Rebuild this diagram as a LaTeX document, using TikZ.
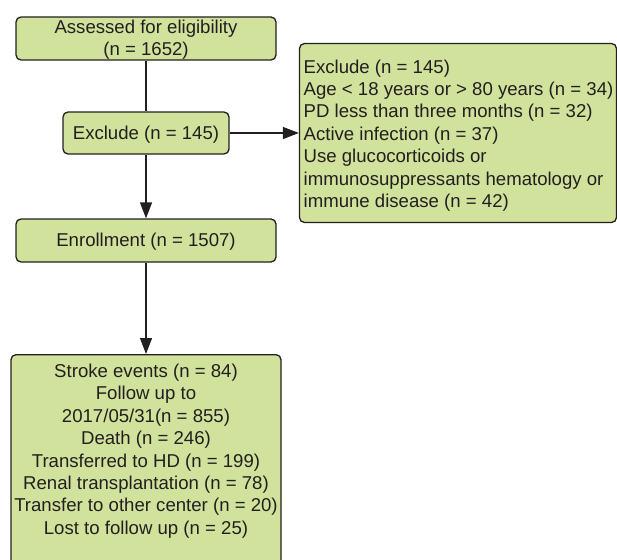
\documentclass[tikz,border=0pt]{standalone}
\usepackage{fontspec}
\setmainfont{Liberation Sans}
\usetikzlibrary{arrows.meta}
\definecolor{boxfill}{RGB}{208,226,155}
\definecolor{boxline}{RGB}{35,31,32}
\begin{document}
\begin{tikzpicture}[x=1pt,y=-1pt,
 box/.style={draw=boxline, line width=1.3pt, fill=boxfill, rounded corners=5pt, inner sep=0pt},
 txt/.style={font=\fontsize{18.6}{22.4}\selectfont, text=boxline, inner sep=0pt},
 conn/.style={draw=boxline, line width=1.3pt},
 arr/.style={conn, -{Triangle[length=16pt,width=12pt]}}]
\useasboundingbox (0,0) rectangle (617,559);
\node[box, minimum width=260, minimum height=43] (assess) at (146,38.5) {};
\node[txt, align=center] (assesstxt) at (146,39.5) {Assessed for eligibility\\(n = 1652)};
\node[box, minimum width=166, minimum height=42] (excl) at (146,133) {};
\node[txt] (excltxt) at (146,134.5) {Exclude (n = 145)};
\node[box, minimum width=317, minimum height=179] (exdet) at (458,133) {};
\node[txt, align=left] (exdettxt) at (458.5,135.5) {Exclude (n = 145)\\Age < 18 years or > 80 years (n = 34)\\PD less than three months (n = 32)\\Active infection (n = 37)\\Use glucocorticoids or\\immunosuppressants hematology or\\immune disease (n = 42)};
\node[box, minimum width=260, minimum height=43] (enrol) at (146,240.5) {};
\node[txt] (enroltxt) at (146,242) {Enrollment (n = 1507)};
\node[box, minimum width=270, minimum height=230, anchor=north] (out) at (146,354) {};
\node[txt, align=center] (outtxt) at (146,451) {Stroke events (n = 84)\\Follow up to\\2017/05/31(n = 855)\\Death (n = 246)\\Transferred to HD (n = 199)\\Renal transplantation (n = 78)\\Transfer to other center (n = 20)\\Lost to follow up (n = 25)};
\draw[conn] (assess.south) -- (excl.north);
\draw[arr] (excl.south) -- (enrol.north);
\draw[arr] (excl.east) -- (exdet.west);
\draw[arr] (enrol.south) -- (out.north);
\end{tikzpicture}
\end{document}
